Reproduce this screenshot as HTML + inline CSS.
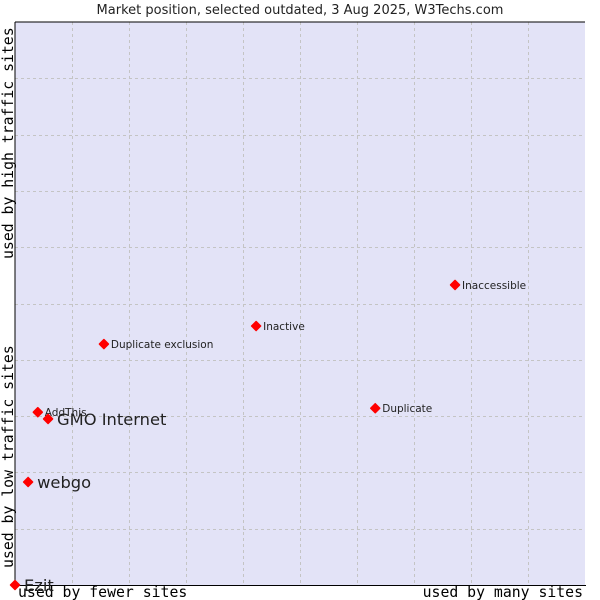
<!DOCTYPE html>
<html><head><meta charset="utf-8"><style>
body{margin:0;background:#fff;width:600px;height:600px;overflow:hidden}
svg{display:block}
</style></head><body>
<svg id="chart" width="600" height="600" xmlns="http://www.w3.org/2000/svg">
<text x="300" y="14" text-anchor="middle" font-family="DejaVu Sans, sans-serif" font-size="13" fill="#222">Market position, selected outdated, 3 Aug 2025, W3Techs.com</text>
<rect x="15" y="22" width="570" height="563" fill="#e3e3f7"/>
<g id="grid"></g>
<line x1="15" y1="22" x2="585" y2="22" stroke="#000"/>
<line x1="15" y1="22" x2="15" y2="586" stroke="#000"/>
<line x1="14" y1="585.5" x2="586" y2="585.5" stroke="#000"/>
<text x="18" y="597" font-family="DejaVu Sans Mono, Liberation Mono, monospace" font-size="14.8" fill="#000">used by fewer sites</text>
<text x="583" y="597" text-anchor="end" font-family="DejaVu Sans Mono, Liberation Mono, monospace" font-size="14.8" fill="#000">used by many sites</text>
<text transform="translate(13,568) rotate(-90)" font-family="DejaVu Sans Mono, Liberation Mono, monospace" font-size="14.8" fill="#000">used by low traffic sites</text>
<text transform="translate(13,259) rotate(-90)" font-family="DejaVu Sans Mono, Liberation Mono, monospace" font-size="14.8" fill="#000">used by high traffic sites</text>
<g id="points"></g>
</svg>
<script>
const names = ["Ezit","webgo","AddThis","GMO Internet","Duplicate exclusion","Inactive","Duplicate","Inaccessible"];
const xValues = [0,2.3,4.0,5.8,15.6,42.3,63.2,77.2];
const yValues = [0,18.3,30.7,29.5,42.8,46.0,31.4,53.3];
const bigLabel = [true,true,false,true,false,false,false,false];
const NS="http://www.w3.org/2000/svg";
const L=15,R=585,T=22,B=585;
function xs(v){return L+v/100*(R-L);}
function ys(v){return B-v/100*(B-T);}
const grid=document.getElementById('grid');
for(let i=1;i<10;i++){
  const v=document.createElementNS(NS,'line');
  
  
  const x=Math.round(xs(i*10))+0.5;
  v.setAttribute('x1',x);v.setAttribute('x2',x);v.setAttribute('y1',T);v.setAttribute('y2',B);
  v.setAttribute('stroke','#c4c4c4');v.setAttribute('stroke-dasharray','3,3');
  grid.appendChild(v);
  const h=document.createElementNS(NS,'line');
  
  
  const y=Math.round(ys(i*10))+0.5;
  h.setAttribute('x1',L);h.setAttribute('x2',R);h.setAttribute('y1',y);h.setAttribute('y2',y);
  h.setAttribute('stroke','#c4c4c4');h.setAttribute('stroke-dasharray','3,3');
  grid.appendChild(h);
}
const pts=document.getElementById('points');
names.forEach((n,i)=>{
  const x=xs(xValues[i]),y=ys(yValues[i]);
  const p=document.createElementNS(NS,'path');
  
  
  p.setAttribute('d',`M${x} ${y-4.5}L${x+4.5} ${y}L${x} ${y+4.5}L${x-4.5} ${y}Z`);
  p.setAttribute('fill','#f00');p.setAttribute('stroke','#f00');p.setAttribute('stroke-linejoin','round');p.setAttribute('stroke-width','1.5');
  pts.appendChild(p);
  const t=document.createElementNS(NS,'text');
  
  
  t.setAttribute('x',x+(bigLabel[i]?9:7));
  t.setAttribute('y',y+(bigLabel[i]?6:4));
  t.setAttribute('font-family','DejaVu Sans, sans-serif');
  t.setAttribute('font-size',bigLabel[i]?'16.3':'10.5');
  t.setAttribute('fill','#222');
  t.textContent=n;
  pts.appendChild(t);
});
</script>
</body></html>
